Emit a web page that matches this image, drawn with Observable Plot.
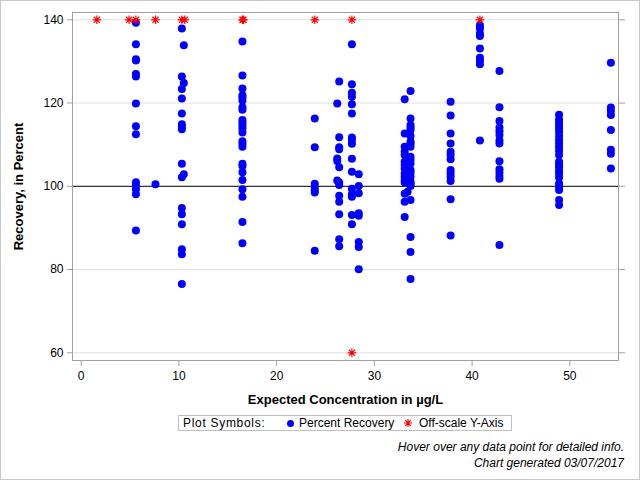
<!DOCTYPE html>
<html><head><meta charset="utf-8">
<script src="https://cdn.jsdelivr.net/npm/d3@7"></script>
<script src="https://cdn.jsdelivr.net/npm/@observablehq/plot@0.6"></script>
<style>
body{margin:0;background:#fff;font-family:"Liberation Sans",Arial,sans-serif;}
#wrap{position:relative;width:640px;height:480px;overflow:hidden;background:#fff}
#border{position:absolute;left:0;top:0;width:640px;height:480px;box-sizing:border-box;border:1px solid #c8c8c8;pointer-events:none}
#chart svg{display:block}
#legend{position:absolute;left:178px;top:415px;width:334px;height:16px;box-sizing:border-box;border:1px solid #c0c0c0;font-size:12px;color:#000}
.lg{position:absolute;top:0;line-height:14px;white-space:nowrap}
#notes{position:absolute;right:16px;top:439px;text-align:right;font-style:italic;font-size:12px;line-height:16px;color:#000}
</style></head>
<body>
<div id="wrap"><div id="chart"></div>
<div id="legend"></div>
<div id="notes"></div>
<div id="border"></div></div>
<script>
// ---- data ----
const conc = [5.6, 7.6, 10.3, 10.5, 16.5, 23.9, 26.2, 26.4, 27.7, 28.4, 33.1, 33.4, 33.7, 37.8, 40.8, 42.8, 48.9, 54.2];
const rec_5_6  = [139.3, 134.1, 130.5, 130.2, 127.0, 126.4, 119.9, 114.4, 112.5, 101.0, 100.2, 99.3, 98.1, 89.4];
const rec_7_6  = [100.5];
const rec_10_3 = [137.9, 126.4, 123.4, 121.1, 117.5, 114.9, 114.3, 113.7, 105.4, 102.2, 94.8, 93.3, 90.9, 84.9, 83.7, 76.5];
const rec_10_5 = [133.9, 124.8, 102.9];
const rec_16_5 = [134.8, 126.6, 123.5, 121.9, 121.4, 120.6, 119.0, 118.4, 115.9, 115.3, 114.6, 113.9, 112.9, 110.8, 110.2, 109.5, 105.4, 104.9, 103.4, 101.5, 99.3, 97.5, 91.4, 86.3];
const rec_23_9 = [116.3, 109.4, 100.6, 99.8, 99.1, 98.5, 84.5];
const rec_26_2 = [119.9, 106.7, 106.1, 101.4];
const rec_26_4 = [125.2, 111.8, 109.4, 108.9, 104.6, 100.9, 100.3, 97.7, 96.3, 93.3, 87.3, 85.6];
const rec_27_7 = [134.1, 124.5, 122.5, 121.5, 119.7, 117.5, 111.7, 111.1, 110.2, 106.6, 103.5, 99.4, 98.1, 97.5, 93.1, 90.9];
const rec_28_4 = [102.9, 100.1, 98.3, 93.5, 92.9, 86.6, 85.4, 80.1];
const rec_33_1 = [120.9, 112.7, 109.5, 108.3, 107.5, 105.9, 105.1, 104.3, 103.1, 102.3, 101.5, 100.9, 98.2, 96.3, 92.6];
const rec_33_4 = [98.7];
const rec_33_7 = [122.9, 116.3, 114.7, 114.1, 113.5, 112.1, 110.7, 110.2, 109.5, 107.1, 106.4, 105.5, 103.9, 103.3, 102.3, 101.1, 100.6, 100.1, 96.7, 87.8, 84.2, 77.7];
const rec_37_8 = [120.3, 117.0, 112.7, 110.3, 108.3, 107.5, 106.5, 103.9, 103.1, 102.3, 101.3, 96.9, 88.2];
const rec_40_8 = [138.7, 137.9, 136.7, 136.1, 133.1, 130.9, 130.2, 129.3, 111.0];
const rec_42_8 = [127.7, 119.0, 115.7, 114.1, 113.2, 112.3, 111.0, 110.3, 106.0, 104.1, 103.3, 102.5, 101.8, 85.9];
const rec_48_9 = [117.2, 116.0, 115.2, 114.7, 113.9, 113.1, 112.1, 111.1, 110.3, 109.4, 108.5, 107.5, 105.9, 105.3, 104.6, 103.7, 103.0, 102.1, 100.7, 99.9, 99.1, 96.7, 95.5];
const rec_54_2 = [129.7, 118.9, 118.1, 117.1, 113.5, 108.8, 107.8, 104.3];
const offConc = [1.6, 4.9, 5.6, 7.6, 10.3, 10.6, 16.5, 16.6, 23.9, 27.7, 27.7, 40.8];
const offRec  = [140, 140, 140, 140, 140, 140, 140, 140, 140, 140, 60, 140];
const xTicks = [0, 10, 20, 30, 40, 50];
const yTicks = [60, 80, 100, 120, 140];
const gridVals = [60, 80, 120, 140];
const refVal = [100];
const xLabel = "Expected Concentration in µg/L";
const yLabel = "Recovery, in Percent";
const legendTitle = "Plot Symbols:";
const legendItems = ["Percent Recovery", "Off-scale Y-Axis"];
const notes = ["Hover over any data point for detailed info.", "Chart generated 03/07/2017"];

// ---- build tables ----
const columns = [rec_5_6, rec_7_6, rec_10_3, rec_10_5, rec_16_5, rec_23_9, rec_26_2, rec_26_4, rec_27_7, rec_28_4,
  rec_33_1, rec_33_4, rec_33_7, rec_37_8, rec_40_8, rec_42_8, rec_48_9, rec_54_2];
const points = [];
columns.forEach((vals, i) => vals.forEach(v => points.push({conc: conc[i], rec: v})));
const offscale = offConc.map((c, i) => ({conc: c, rec: offRec[i]}));

const star = {
  draw(ctx, size) {
    const r = Math.sqrt(size / Math.PI), d = r * Math.SQRT1_2;
    ctx.moveTo(0, -r); ctx.lineTo(0, r);
    ctx.moveTo(-r, 0); ctx.lineTo(r, 0);
    ctx.moveTo(-d, -d); ctx.lineTo(d, d);
    ctx.moveTo(-d, d); ctx.lineTo(d, -d);
  }
};

const H = 410;
const chart = Plot.plot({
  width: 640, height: H,
  marginLeft: 72, marginRight: 22, marginTop: 12, marginBottom: H - 360,
  style: {fontFamily: "'Liberation Sans', Arial, sans-serif", fontSize: "12px", color: "black", background: "white"},
  x: {domain: [-0.89, 54.98]},
  y: {domain: [58.15, 141.75]},
  marks: [
    Plot.ruleY(gridVals, {stroke: "#e1e1e1"}),
    Plot.ruleY(refVal, {stroke: "black"}),
    Plot.frame({stroke: "#a0a0a0"}),
    Plot.axisX(xTicks, {tickSize: 6, tickPadding: 5, stroke: "#a0a0a0", fill: "black", fontSize: 12, label: null}),
    Plot.axisY(yTicks, {anchor: "left", tickSize: 5, tickPadding: 4, stroke: "#a0a0a0", fill: "black", fontSize: 12, label: null}),
    Plot.axisY(yTicks, {anchor: "right", tickSize: 6, tickFormat: () => "", stroke: "#a0a0a0", label: null}),
    Plot.dot(points, {x: "conc", y: "rec", r: 4, fill: "#0000ff", stroke: "none"}),
    Plot.dot(offscale, {x: "conc", y: "rec", r: 4.3, symbol: star, stroke: "#ff0000", strokeWidth: 1.2, fill: "none"}),
    Plot.text([xLabel], {frameAnchor: "bottom", dy: 39, lineAnchor: "middle", textAnchor: "middle", fontWeight: "bold", fontSize: 13, fill: "black"}),
    Plot.text([yLabel], {frameAnchor: "left", dx: -54, rotate: -90, textAnchor: "middle", lineAnchor: "middle", fontWeight: "bold", fontSize: 13, fill: "black"})
  ]
});
document.getElementById("chart").appendChild(chart);

// ---- legend ----
const lg = document.getElementById("legend");
lg.innerHTML =
  `<span class="lg" style="left:4px;letter-spacing:0.7px">${legendTitle}</span>` +
  `<span class="lg" style="left:108px;top:4px;width:7px;height:7px;border-radius:50%;background:#0000ff"></span>` +
  `<span class="lg" style="left:120px">${legendItems[0]}</span>` +
  `<svg class="lg" style="left:224px;top:2px" width="10" height="10" viewBox="-5 -5 10 10"><path d="M0,-4V4M-4,0H4M-2.8,-2.8L2.8,2.8M-2.8,2.8L2.8,-2.8" stroke="#ff0000" stroke-width="1.2" fill="none"/></svg>` +
  `<span class="lg" style="left:240px">${legendItems[1]}</span>`;
document.getElementById("notes").innerHTML = notes.join("<br>");
</script>
</body></html>
